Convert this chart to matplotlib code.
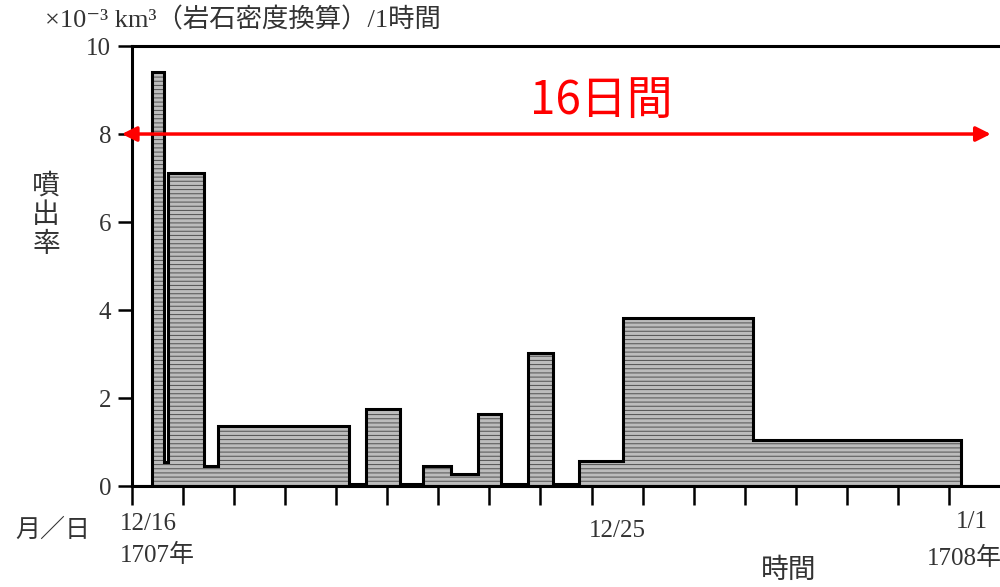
import numpy as np
import matplotlib
matplotlib.use('Agg')
import matplotlib.pyplot as plt
from matplotlib import transforms

plt.rcParams['font.family'] = ['Liberation Serif', 'Noto Sans CJK JP', 'DejaVu Sans']
plt.rcParams['hatch.linewidth'] = 0.7
plt.rcParams['hatch.color'] = '#505050'

# 時間軸 (12/16 からの日数) と噴出率 (x10^-3 km3 / 1時間)
edges = [0.0, 0.39, 0.62, 0.70, 1.41, 1.68, 4.25, 4.59, 5.24, 5.69, 6.24,
         6.78, 7.22, 7.76, 8.24, 8.76, 9.61, 12.16, 16.24, 17.0]
rate = [0.0, 9.4, 0.55, 7.12, 0.45, 1.36, 0.05, 1.75, 0.05, 0.45, 0.28,
        1.63, 0.05, 3.03, 0.05, 0.57, 3.83, 1.05, 0.0]

day_ticks = list(range(17))

fig = plt.figure(figsize=(10, 5.87), dpi=100)
ax = fig.add_axes([0.132, 0.172, 0.868, 0.7496])

ax.stairs(rate, edges, fill=True, facecolor='#bcbcbc', hatch='----',
          edgecolor='#505050', linewidth=0)
ax.stairs(rate, edges, color='black', linewidth=2.2)

ax.set_xlim(0, 17)
ax.set_ylim(0, 10)
ax.spines['right'].set_visible(False)
for s in ['left', 'top', 'bottom']:
    ax.spines[s].set_linewidth(2.2)

ax.set_yticks(range(0, 11, 2))
ax.tick_params(axis='y', direction='out', length=10, width=1.8,
               labelsize=18, pad=5, labelcolor='#333333')
ax.set_xticks(day_ticks)
ax.set_xticklabels([])
ax.tick_params(axis='x', direction='out', length=14, width=1.8)

# 日付ラベル
bt = transforms.blended_transform_factory(ax.transData, fig.transFigure)
lab = dict(transform=bt, va='center', fontsize=18, color='#333333')
ax.text(-0.24, 1 - 524 / 587, '12/16', ha='left', **lab)
ax.text(-0.24, 1 - 555 / 587, '1707年', ha='left', **lab)
ax.text(9 - 0.06, 1 - 531 / 587, '12/25', ha='left', **lab)
ax.text(16.45, 1 - 522 / 587, '1/1', ha='center', **lab)
ax.text(16.3, 1 - 558 / 587, '1708年', ha='center', **lab)

fig.text(0.015, 1 - 530 / 587, '月／日', ha='left', va='center',
         fontsize=18, color='#333333')
fig.text(0.789, 1 - 571 / 587, '時間', ha='center', va='center',
         fontsize=20, color='#333333')
fig.text(0.045, 1 - 20 / 587, '×10⁻³ km³（岩石密度換算）/1時間',
         ha='left', va='center', fontsize=19, color='#333333')
fig.text(0.046, 1 - 216 / 587, '噴\n出\n率', ha='center', va='center',
         fontsize=20, color='#333333', linespacing=1.2)

# 16日間の矢印
ax.annotate('', xy=(-0.2, 8), xytext=(16.82, 8),
            arrowprops=dict(arrowstyle='<|-|>', color='red', lw=2.5,
                            mutation_scale=22, shrinkA=0, shrinkB=0),
            annotation_clip=False)
ax.text(9.2, 8.75, '16日間', color='red', fontsize=33, ha='center', va='center',
        family=['Noto Sans CJK JP', 'DejaVu Sans'])

fig.savefig('out.png', dpi=100)
